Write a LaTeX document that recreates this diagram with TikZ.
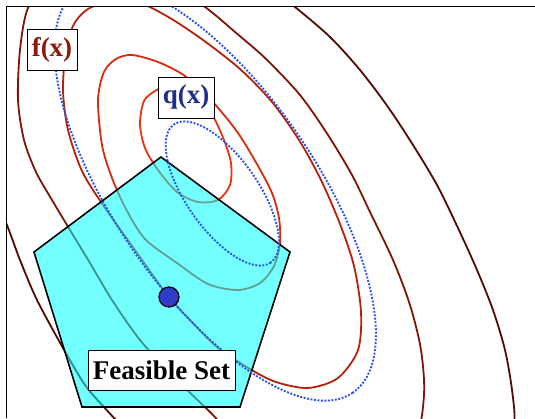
\documentclass[tikz,border=0pt]{standalone}
\usepackage{fontspec}
\setmainfont{Liberation Serif}
\usepackage{tikz}
\usetikzlibrary{positioning}
\usepackage{xcolor}
\definecolor{ContourA}{HTML}{E8340F}
\definecolor{ContourB}{HTML}{D72C0C}
\definecolor{ContourC}{HTML}{B52209}
\definecolor{ContourD}{HTML}{7E1505}
\definecolor{ContourE}{HTML}{520A03}
\definecolor{ModelBlue}{HTML}{2850F5}
\definecolor{IterBlue}{HTML}{2E3CC8}
\definecolor{SetCyan}{rgb}{0,1,1}
\definecolor{LabelRed}{HTML}{8B1A0A}
\definecolor{LabelNavy}{HTML}{1E2E8E}

\begin{document}
\begin{tikzpicture}[x=1pt,y=-1pt,
    contour/.style={line width=1.8pt},
    model/.style={draw=ModelBlue,line width=1.9pt,dash pattern=on 1.9pt off 1.6pt},
    region/.style={draw=black,line width=1.6pt,fill=SetCyan,fill opacity=0.55,line join=miter},
    iterate/.style={circle,draw=black,line width=1.2pt,fill=IterBlue,
      minimum size=20pt,inner sep=0pt},
    tag/.style={draw=black,line width=1pt,fill=white,inner sep=0pt,
      minimum height=41pt,font=\fontsize{27}{30}\selectfont\bfseries}
  ]
  \useasboundingbox (0,0) rectangle (535,418);

  % level sets of f
  \begin{scope}
    \clip (6.5,6.5) rectangle (545,430);
    \draw[contour,ContourA] plot[smooth cycle] coordinates {
      (144,101) (155,91) (168,86) (184,87) (200,97) (213,116) (224,140)
      (231,163) (230,185) (218,200) (198,202) (177,192) (158,170)
      (145,148) (140,124)};
    \draw[contour,ContourB] plot[smooth cycle] coordinates {
      (98,100) (104,72) (116,59) (132,55) (158,62) (185,76) (212,101)
      (238,133) (258,166) (272,193) (279,218) (280,243) (274,266)
      (260,283) (238,290) (208,284) (177,263) (145,239) (126,209)
      (112,178) (102,145)};
    \draw[contour,ContourC] plot[smooth cycle] coordinates {
      (88,9) (112,1) (140,3) (170,18) (203,40) (240,69) (272,102)
      (299,140) (321,180) (340,224) (354,266) (361,312) (358,350)
      (338,378) (308,388) (276,382) (250,369) (217,347) (190,320)
      (168,296) (135,250) (103,205) (82,171) (68,130) (63,90) (66,50)
      (74,24)};
    \draw[contour,ContourD] plot[smooth cycle] coordinates {
      (28,8) (50,-18) (100,-32) (160,-22) (205,7) (235,32) (265,58)
      (300,95) (328,135) (352,175) (370,212) (393,260) (410,305)
      (421,350) (424,395) (415,440) (380,465) (320,470) (250,450)
      (210,412) (172,375) (140,340) (112,300) (90,263) (70,230)
      (52,200) (36,172) (24,140) (18,100) (20,50)};
    \draw[contour,ContourE] plot[smooth cycle] coordinates {
      (7,225) (20,260) (37,300) (63,348) (85,385) (103,406) (116,420)
      (140,445) (250,485) (400,485) (500,458) (514,425) (512,390)
      (505,350) (493,310) (477,270) (458,228) (437,185) (413,145)
      (388,107) (360,70) (330,37) (295,7) (260,-20) (180,-55) (90,-60)
      (20,-35) (-20,40) (-28,120) (-8,190)};
  \end{scope}

  % feasible set
  \draw[region] (161,157) -- (290,252) -- (240,407) -- (82,407)
    -- (34,252) -- cycle;

  % quadratic model q
  \begin{scope}
    \clip (6.5,6.5) rectangle (545,430);
    \draw[model,shift={(222.3,193.5)},rotate=-55]
      (0,0) ellipse [x radius=84.3,y radius=36];
    \draw[model,shift={(215.2,191.8)},rotate=-55.6]
      (0,0) ellipse [x radius=243.5,y radius=100.7];
  \end{scope}

  \draw[line width=1.5pt] (6.5,418) -- (6.5,6.5) -- (535,6.5);

  \node[iterate] (xk) at (169,297) {};
  \node[tag,text=LabelRed,minimum width=50pt] (f) at (52,49.5) {f(x)};
  \node[tag,text=LabelNavy,minimum width=56pt] (q) at (186,97.5) {q(x)};
  \node[tag,minimum width=147pt,minimum height=40pt] (fs) at (161.5,370)
    {Feasible Set};
\end{tikzpicture}
\end{document}
